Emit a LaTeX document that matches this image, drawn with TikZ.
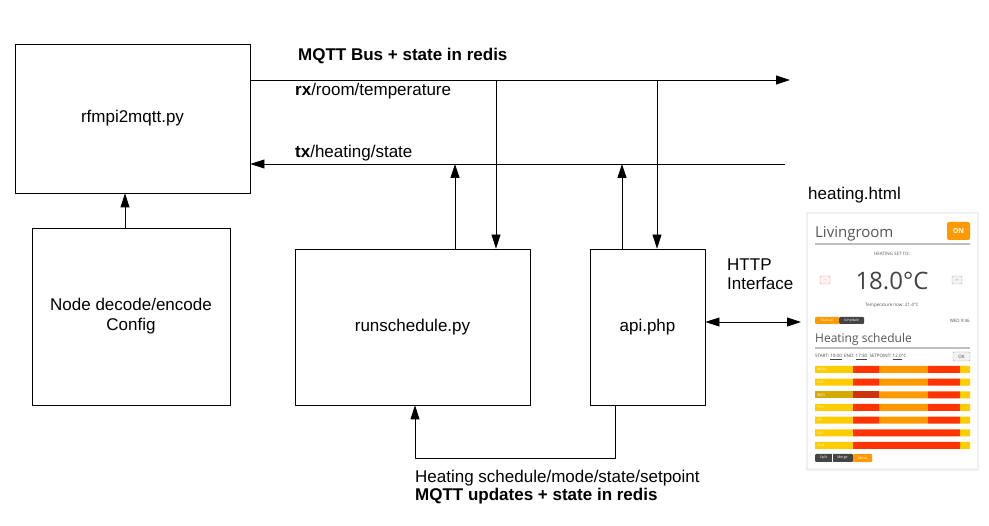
\documentclass[tikz,border=0pt]{standalone}
\usepackage{fontspec}
\setmainfont{Liberation Sans}
\newfontfamily\uifont{Open Sans}
\usetikzlibrary{arrows.meta}
\definecolor{uigray}{HTML}{555555}
\definecolor{uidark}{HTML}{444444}
\definecolor{uion}{HTML}{FF9900}
\definecolor{slotyellow}{HTML}{FFCC00}
\definecolor{slotred}{HTML}{FF3300}
\definecolor{slotorange}{HTML}{FF9900}
\definecolor{slotdkyellow}{HTML}{D4AA00}
\definecolor{slotdkred}{HTML}{CC3311}

\begin{document}
\begin{tikzpicture}[x=1pt,y=-1pt,line join=round,>={Triangle[length=14pt,width=9pt]},
    box/.style={draw,line width=0.8pt,inner sep=0pt,align=center,font=\fontsize{17}{20}\selectfont},
    lbl/.style={anchor=base west,inner sep=0pt,align=left,font=\fontsize{17}{19}\selectfont},
    bus/.style={line width=0.8pt},
    ui/.style={inner sep=0pt,text=uigray,font=\uifont\fontsize{4.5}{5}\selectfont},
    daylbl/.style={ui,anchor=west,text=white,font=\uifont\fontsize{3.5}{4}\selectfont}]
\useasboundingbox (0,0) rectangle (989,526);

% boxes
\node[box,minimum width=235pt,minimum height=149pt] (rfm) at (132.5,118.5) {rfmpi2mqtt.py};
\node[box,minimum width=198pt,minimum height=177pt] (codec) at (131,316.5) {Node decode/encode\\Config};
\node[box,minimum width=235pt,minimum height=156pt] (runs) at (412.5,327) {runschedule.py};
\node[box,minimum width=115pt,minimum height=156pt] (api) at (647.5,327) {api.php};

% mqtt bus
\coordinate (busend) at (790,80);
\coordinate (txstart) at (785,164);
\draw[bus,->] (rfm.east |- busend) -- (busend);
\draw[bus,->] (txstart) -- (rfm.east |- txstart);
\node[lbl,font=\bfseries\fontsize{17}{19}\selectfont] (busname) at (298,61) {MQTT Bus + state in redis};
\node[lbl] (rxtopic) at (295,96) {\textbf{rx}/room/temperature};
\node[lbl] (txtopic) at (295,158) {\textbf{tx}/heating/state};

% taps on the bus
\coordinate (rxrun) at (496,80);
\coordinate (txrun) at (455,164);
\coordinate (rxapi) at (657,80);
\coordinate (txapi) at (622,164);
\draw[bus,->] (rxrun) -- (rxrun |- runs.north);
\draw[bus,->] (txrun |- runs.north) -- (txrun);
\draw[bus,->] (rxapi) -- (rxapi |- api.north);
\draw[bus,->] (txapi |- api.north) -- (txapi);
\draw[bus,->] ([xshift=-6pt]codec.north) -- ([xshift=-6pt]codec.north |- rfm.south);

% schedule updates
\coordinate (loopR) at (615,458);
\coordinate (loopL) at (415,458);
\draw[bus,->] (loopR |- api.south) -- (loopR) -- (loopL) -- (loopL |- runs.south);
\node[lbl] (loopname) at (415,483) {Heating schedule/mode/state/setpoint};
\node[lbl,font=\bfseries\fontsize{17}{19}\selectfont] (loopbus) at (415,501) {MQTT updates + state in redis};

% http
\coordinate (page) at (801,322);
\draw[bus,<->] (api.east |- page) -- (page);
\node[lbl] (http) at (727,290) {HTTP\\Interface};
\node[lbl] (pagename) at (808,200) {heating.html};

% heating.html screenshot
\fill[black!6] (806,212) rectangle (979,471);
\fill[white] (808,214) rectangle (977,468);
\node[ui,anchor=base west,font=\uifont\fontsize{15}{16}\selectfont] (room) at (815,238) {Livingroom};
\draw[black!25,line width=1.5pt] (815,244) -- (970,244);
\fill[uion,rounded corners=2pt] (947,222) rectangle (970,240);
\node[ui,text=white,font=\uifont\bfseries\fontsize{7}{8}\selectfont] (on) at (958.5,231) {ON};
\node[ui] (setto) at (892,254) {HEATING SET TO:};
\node[ui,anchor=base,text=uidark,font=\uifont\fontsize{24}{26}\selectfont] (setval) at (892,290) {18.0°C};
\draw[red!45,fill=red!5,rounded corners=1pt,line width=0.4pt] (820,276) rectangle (830,284);
\draw[black!30,fill=black!5,rounded corners=1pt,line width=0.4pt] (952,276) rectangle (962,284);
\node[ui,font=\uifont\fontsize{3.5}{4}\selectfont] (minus) at (825,280) {-};
\node[ui,font=\uifont\fontsize{3.5}{4}\selectfont] (plus) at (957,280) {+};
\node[ui] (tempnow) at (892,305) {Temperature now: 21.4°C};
\fill[uion,rounded corners=1pt] (815,317) rectangle (839,324);
\fill[uidark,rounded corners=1pt] (839,317) rectangle (864,324);
\node[ui,text=white,font=\uifont\fontsize{3.5}{4}\selectfont] (manual) at (827,320.5) {Manual};
\node[ui,text=white,font=\uifont\fontsize{3.5}{4}\selectfont] (sched) at (851.5,320.5) {Schedule};
\node[ui,anchor=east] (clock) at (970,321) {WED 9:46};
\node[ui,anchor=base west,font=\uifont\fontsize{12}{13}\selectfont] (schedname) at (815,343) {Heating schedule};
\draw[black!25,line width=1.2pt] (815,348) -- (970,348);
\node[ui,anchor=west,text=uidark] (slotedit) at (815,357) {START: \underline{10:00}\ \ END: \underline{17:30}\ \ SETPOINT: \underline{12.0}°C};
\draw[black!30,fill=black!5,rounded corners=1pt,line width=0.4pt] (953,352) rectangle (970,361);
\node[ui,text=uidark] (ok) at (961.5,356.5) {OK};
% schedule slots
\fill[slotyellow] (815,366) rectangle (853,373) (815,378.7) rectangle (853,385.7) (815,404) rectangle (853,411)
  (815,416.7) rectangle (853,423.7) (815,429.3) rectangle (853,436.3) (815,442) rectangle (853,449);
\fill[slotdkyellow] (815,391.3) rectangle (853,398.3);
\fill[slotred] (853,366) rectangle (879,373) (853,378.7) rectangle (879,385.7) (853,404) rectangle (879,411)
  (853,416.7) rectangle (879,423.7);
\fill[slotdkred] (853,391.3) rectangle (879,398.3);
\fill[slotorange] (879,366) rectangle (928,373) (879,378.7) rectangle (928,385.7) (879,391.3) rectangle (928,398.3)
  (879,404) rectangle (928,411) (879,416.7) rectangle (928,423.7);
\fill[slotred] (928,366) rectangle (960,373) (928,378.7) rectangle (960,385.7) (928,391.3) rectangle (960,398.3)
  (928,404) rectangle (960,411) (928,416.7) rectangle (960,423.7);
\fill[slotred] (853,429.3) rectangle (960,436.3) (853,442) rectangle (960,449);
\fill[slotyellow] (960,366) rectangle (970,373) (960,378.7) rectangle (970,385.7) (960,391.3) rectangle (970,398.3)
  (960,404) rectangle (970,411) (960,416.7) rectangle (970,423.7) (960,429.3) rectangle (970,436.3) (960,442) rectangle (970,449);
\node[daylbl] (mon) at (817,369.5) {MON};
\node[daylbl] (tue) at (817,382.2) {TUE};
\node[daylbl] (wed) at (817,394.8) {WED};
\node[daylbl] (thu) at (817,407.5) {THU};
\node[daylbl] (fri) at (817,420.2) {FRI};
\node[daylbl] (sat) at (817,432.8) {SAT};
\node[daylbl] (sun) at (817,445.5) {SUN};
\fill[uidark,rounded corners=1pt] (815,454) rectangle (853,462);
\fill[uion,rounded corners=1pt] (853,454) rectangle (872,462);
\draw[white,line width=0.4pt] (832,454) -- (832,462);
\node[ui,text=white,font=\uifont\fontsize{3.5}{4}\selectfont] (split) at (823.5,458) {Split};
\node[ui,text=white,font=\uifont\fontsize{3.5}{4}\selectfont] (merge) at (842.5,458) {Merge};
\node[ui,text=white,font=\uifont\fontsize{3.5}{4}\selectfont] (move) at (862.5,458) {Move};
\end{tikzpicture}
\end{document}
